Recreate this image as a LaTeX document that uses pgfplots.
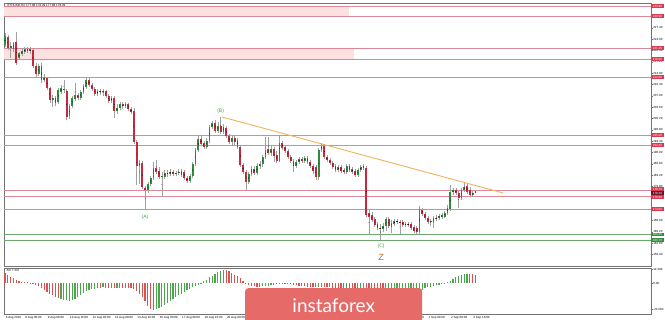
\documentclass[border=0pt]{standalone}
\usepackage{fontspec}
\setmainfont{Liberation Sans}
\newfontfamily\logofont{Lato}
\usepackage{pgfplots}
\usepackage{pgfplotstable}
\pgfplotsset{compat=1.18}
\definecolor{bull}{HTML}{2E8B3E}
\definecolor{bear}{HTML}{C8283C}
\definecolor{wick}{HTML}{A0A0A0}
\definecolor{lvl}{HTML}{DC8898}
\definecolor{band}{HTML}{FDE0E0}
\definecolor{lvlbox}{HTML}{D93A50}
\definecolor{curbox}{HTML}{6A1526}
\definecolor{gline}{HTML}{6FA86F}
\definecolor{gbox}{HTML}{2F8F3A}
\definecolor{trend}{HTML}{F2B25C}
\definecolor{wave}{HTML}{4E9A4E}
\definecolor{zcol}{HTML}{B8652F}
\definecolor{aogreen}{HTML}{4CA64C}
\definecolor{aored}{HTML}{D9534F}
\definecolor{logo}{HTML}{E56A68}
\newcommand\tf{\fontsize{3}{3.6}\selectfont}
\pgfplotsset{
  bullonly/.style={restrict expr to domain={\thisrow{d}}{0.5:1.5}},
  bearonly/.style={restrict expr to domain={\thisrow{d}}{-0.5:0.5}},
  nomarks/.style={only marks, mark=*, mark size=0.01pt, mark options={draw=none, fill=none}},
}
\tikzset{lbox/.style={anchor=west, fill=#1, text=white, font=\tf, inner sep=0.4pt, minimum width=12.5pt, minimum height=3.6pt}}

\pgfplotstableread{
i o h l c d
0 222.2 225.8 221.6 224.9 1
1 224.6 225.2 220.7 221.3 0
2 221.3 223.1 218.3 221.9 1
3 221.0 223.1 220.1 222.8 1
4 223.1 226.1 216.2 216.8 0
5 218.3 220.1 217.7 219.8 1
6 219.5 221.3 218.9 220.4 1
7 220.1 221.6 219.5 221.0 1
8 221.0 221.6 219.8 220.4 0
9 220.4 221.6 219.5 221.0 1
10 220.7 221.3 215.3 215.9 0
11 215.9 216.8 212.3 213.5 0
12 213.5 216.5 212.9 215.9 1
13 215.9 216.8 210.8 211.7 0
14 211.7 213.5 211.1 212.3 1
15 212.3 212.6 208.7 209.3 0
16 209.3 209.6 204.8 205.7 0
17 205.7 207.2 203.6 206.3 1
18 206.3 206.9 203.9 204.8 0
19 205.1 209.3 204.5 208.7 1
20 208.1 210.2 207.5 209.3 1
21 209.0 211.7 207.8 208.7 0
22 208.4 209.0 199.7 200.6 0
23 200.9 204.5 200.0 203.9 1
24 203.9 206.9 203.3 206.3 1
25 206.0 210.8 205.4 207.2 1
26 207.2 207.8 205.7 206.3 0
27 206.3 208.7 205.7 208.1 1
28 208.1 210.5 207.5 209.9 1
29 209.6 212.6 209.0 211.7 1
30 211.7 212.3 209.6 210.2 0
31 210.2 210.8 208.4 209.0 0
32 209.0 209.6 206.9 207.5 0
33 207.5 209.0 206.9 208.4 1
34 208.4 209.0 207.2 208.1 0
35 208.1 209.0 206.9 208.4 1
36 208.4 208.7 206.3 206.9 0
37 206.9 207.5 204.8 205.4 0
38 205.4 206.9 204.8 206.3 1
39 206.3 206.9 200.3 202.4 0
40 202.4 204.5 201.5 203.3 1
41 203.3 205.1 202.7 204.5 1
42 204.5 205.1 203.0 203.9 0
43 203.9 205.1 203.3 204.5 1
44 204.5 204.8 202.4 203.0 0
45 203.0 203.6 201.5 202.1 0
46 202.4 203.3 192.5 193.1 0
47 193.1 193.7 180.2 185.9 0
48 185.9 187.7 180.5 186.8 1
49 186.8 187.4 179.0 179.6 0
50 179.3 179.9 172.7 178.7 0
51 178.7 181.1 177.8 180.5 1
52 180.5 182.9 179.9 182.3 1
53 182.3 187.1 181.7 185.3 1
54 185.3 187.7 183.5 184.1 0
55 184.4 185.6 182.0 182.6 0
56 182.6 184.1 176.6 182.9 1
57 182.6 184.7 182.0 183.8 1
58 183.8 184.7 182.6 183.5 0
59 183.5 185.0 182.9 184.1 1
60 184.1 184.7 182.9 183.5 0
61 183.5 184.4 182.9 183.8 1
62 183.8 185.0 183.2 184.1 1
63 183.2 185.0 182.6 184.4 1
64 184.1 184.7 181.7 182.3 0
65 182.3 182.9 180.8 181.4 0
66 181.4 183.5 180.8 182.9 1
67 182.9 187.1 182.3 186.5 1
68 186.5 191.3 185.9 190.7 1
69 190.7 195.2 190.1 194.0 1
70 194.0 194.9 191.9 192.5 0
71 192.8 193.4 191.0 191.6 0
72 191.6 194.3 191.0 193.4 1
73 193.4 198.2 192.8 197.6 1
74 197.6 199.4 197.0 198.8 1
75 198.8 199.7 195.8 196.4 0
76 196.4 199.1 195.8 197.9 1
77 197.9 200.6 195.5 196.1 0
78 196.1 198.5 195.5 197.6 1
79 197.3 197.9 194.3 194.9 0
80 194.9 195.5 192.5 193.1 0
81 193.1 195.2 192.2 194.3 1
82 194.3 195.2 192.2 193.1 0
83 193.7 194.3 191.0 191.6 0
84 191.6 192.2 185.6 186.2 0
85 186.2 186.8 183.5 184.1 0
86 184.1 184.7 178.7 181.1 0
87 181.1 184.1 180.5 183.5 1
88 183.5 185.9 182.9 185.0 1
89 185.0 185.9 183.2 183.8 0
90 183.8 186.8 183.2 185.9 1
91 185.9 187.4 185.0 186.5 1
92 186.5 189.2 185.6 188.6 1
93 188.6 194.6 188.0 190.7 1
94 191.0 194.6 189.2 189.8 0
95 189.8 191.9 188.9 191.0 1
96 191.0 191.6 187.1 188.9 0
97 189.2 190.4 186.8 187.4 0
98 187.4 195.2 187.1 192.8 1
99 192.8 193.4 190.7 191.3 0
100 191.6 192.2 189.8 190.4 0
101 190.4 191.0 188.0 188.6 0
102 188.6 189.2 186.8 187.4 0
103 187.4 188.0 184.1 185.9 0
104 185.9 187.7 185.3 187.1 1
105 187.1 188.6 186.5 188.0 1
106 188.0 188.6 186.8 187.4 0
107 187.4 188.9 186.8 188.3 1
108 188.3 188.9 186.5 187.1 0
109 187.1 187.7 185.3 185.9 0
110 185.9 186.5 183.5 184.4 0
111 185.6 186.2 181.7 182.6 0
112 182.6 191.3 181.7 190.7 1
113 190.7 192.8 190.1 191.9 1
114 191.9 192.5 188.0 188.6 0
115 188.6 189.2 187.1 187.7 0
116 187.7 188.3 186.2 186.8 0
117 186.8 187.4 185.0 185.6 0
118 185.9 186.5 184.1 184.7 0
119 184.7 186.2 184.1 185.6 1
120 185.6 186.2 183.8 184.4 0
121 184.7 185.3 183.5 184.1 0
122 184.1 186.5 183.5 185.9 1
123 185.9 186.5 184.1 184.7 0
124 185.0 185.6 183.5 184.1 0
125 184.4 185.0 182.6 183.2 0
126 183.2 185.3 182.6 184.7 1
127 184.7 186.2 184.1 185.6 1
128 185.3 186.5 184.7 185.9 1
129 185.3 185.9 170.6 171.2 0
130 171.8 172.7 165.2 170.6 0
131 171.2 172.1 169.1 169.7 0
132 170.0 170.6 167.6 168.2 0
133 168.5 169.1 166.7 167.3 0
134 167.3 168.5 163.7 167.0 0
135 167.0 168.8 166.1 167.9 1
136 167.9 170.6 166.4 170.0 1
137 170.0 170.6 167.3 167.9 0
138 167.9 169.7 165.8 168.8 1
139 168.5 170.0 167.9 169.4 1
140 169.4 170.0 168.5 169.1 0
141 169.1 169.7 165.5 168.8 0
142 169.1 169.7 167.6 168.2 0
143 168.2 169.1 167.6 168.5 1
144 168.5 169.1 167.6 168.2 0
145 168.5 169.1 166.7 167.3 0
146 167.6 168.2 165.8 166.4 0
147 167.3 167.9 165.2 166.1 0
148 166.1 173.9 165.5 173.0 1
149 172.7 173.3 170.9 171.5 0
150 171.5 172.1 169.7 170.3 0
151 170.3 170.9 168.5 169.1 0
152 169.1 170.0 167.9 169.4 1
153 169.1 170.9 167.3 170.3 1
154 170.3 171.2 169.4 170.0 0
155 170.3 171.5 169.7 170.9 1
156 170.6 171.8 170.0 171.2 1
157 170.6 172.4 170.3 171.8 1
158 171.8 174.2 171.2 173.3 1
159 173.0 180.2 172.4 178.1 1
160 178.1 179.3 177.2 178.7 1
161 178.7 179.3 177.2 177.8 0
162 177.8 178.4 173.3 176.3 0
163 176.3 179.3 175.7 178.7 1
164 178.7 181.1 178.1 179.6 1
165 179.9 180.8 177.5 178.1 0
166 178.7 179.6 176.6 177.2 0
167 177.2 178.4 176.6 177.8 1
168 177.88 178.29 177.88 178.29 1
}\candles

\pgfplotstableread{
i v d
0 8.6 0
1 7.2 0
2 5.6 0
3 4.0 0
4 2.6 0
5 1.8 0
6 1.2 0
7 0.8 0
8 0.5 0
9 0.2 0
10 -0.5 0
11 -1.5 0
12 -2.8 0
13 -4.5 0
14 -6.0 0
15 -7.7 0
16 -9.5 0
17 -11.0 0
18 -12.5 0
19 -13.5 0
20 -14.3 1
21 -15.0 1
22 -15.5 1
23 -15.8 1
24 -15.5 1
25 -14.5 1
26 -12.5 1
27 -10.5 1
28 -9.0 1
29 -7.5 1
30 -6.5 1
31 -5.5 1
32 -5.0 1
33 -4.6 1
34 -4.2 0
35 -4.0 1
36 -4.3 0
37 -4.5 0
38 -4.2 1
39 -4.6 0
40 -4.4 1
41 -4.2 1
42 -4.3 0
43 -4.2 1
44 -4.5 0
45 -4.8 0
46 -5.2 0
47 -7.0 0
48 -9.5 0
49 -12.5 0
50 -16.0 0
51 -20.0 0
52 -23.0 0
53 -23.9 0
54 -23.0 1
55 -22.0 1
56 -21.0 1
57 -19.5 1
58 -17.5 1
59 -15.8 1
60 -14.0 1
61 -12.5 1
62 -11.0 1
63 -9.5 1
64 -8.0 1
65 -6.5 1
66 -5.2 1
67 -4.0 1
68 -3.0 1
69 -1.5 1
70 -0.2 1
71 1.5 1
72 3.0 1
73 5.0 1
74 6.5 1
75 8.0 1
76 9.5 1
77 10.5 1
78 11.6 1
79 11.2 0
80 10.2 0
81 9.0 0
82 7.5 0
83 6.0 0
84 4.0 0
85 2.0 0
86 -0.5 0
87 -1.5 0
88 -2.5 0
89 -3.0 0
90 -3.4 0
91 -3.3 1
92 -3.1 1
93 -2.9 1
94 -2.6 1
95 -2.2 1
96 -1.8 1
97 -1.2 1
98 -0.6 1
99 -0.3 1
100 -0.4 0
101 -0.7 0
102 -1.1 0
103 -1.6 0
104 -2.1 0
105 -2.5 0
106 -2.8 0
107 -3.0 0
108 -3.2 0
109 -3.4 0
110 -3.7 0
111 -4.0 0
112 -3.8 1
113 -3.5 1
114 -3.6 0
115 -3.8 0
116 -4.0 0
117 -4.2 0
118 -4.4 0
119 -4.5 0
120 -4.6 0
121 -4.7 0
122 -4.6 1
123 -4.7 0
124 -4.9 0
125 -5.1 0
126 -5.0 1
127 -4.9 1
128 -4.8 1
129 -6.5 0
130 -9.0 0
131 -11.5 0
132 -13.5 0
133 -15.0 0
134 -16.0 0
135 -16.5 0
136 -16.0 1
137 -15.5 1
138 -15.0 1
139 -14.5 1
140 -14.0 1
141 -13.5 1
142 -13.0 1
143 -12.5 1
144 -12.0 1
145 -11.5 1
146 -11.0 1
147 -10.0 1
148 -8.5 1
149 -6.5 1
150 -4.5 1
151 -3.8 1
152 -3.2 1
153 -2.6 1
154 -2.0 1
155 -1.5 1
156 -1.0 1
157 -0.5 1
158 0.8 1
159 2.2 1
160 3.6 1
161 5.0 1
162 6.3 1
163 7.2 1
164 7.8 1
165 8.2 1
166 8.0 0
167 7.8 0
168 7.5 0
}\ao

\begin{document}
\begin{tikzpicture}
\useasboundingbox (0pt,0pt) rectangle (665pt,320pt);
\begin{axis}[
  at={(4pt,54pt)}, anchor=south west, scale only axis,
  width=647pt, height=263pt,
  xmin=-0.36, xmax=230.7, ymin=155.9, ymax=234.8,
  clip=false,
  axis line style={draw=black!55, line width=0.4pt},
  xtick=\empty,
  ytick pos=right,
  ytick={159.4,162.8,166.2,169.6,173.0,176.4,179.8,183.2,186.6,190.0,193.4,196.8,200.2,203.6,207.0,210.4,213.8,217.2,220.6,224.0,227.4,230.8},
  tick align=outside, major tick length=1.5pt,
  tick style={draw=black!55, line width=0.3pt},
  yticklabel style={font=\tf, inner sep=0.6pt},
  /pgf/number format/.cd, fixed, precision=2, fixed zerofill, assume math mode=true,
]
% zones
\addplot[draw=none, fill=band] coordinates {(-0.36,230.9) (-0.36,233.9) (123,233.9) (123,230.9)} -- cycle;
\addplot[draw=none, fill=band] coordinates {(-0.36,218.0) (-0.36,221.3) (124.5,221.3) (124.5,218.0)} -- cycle;
% levels
\pgfplotsinvokeforeach{233.9,230.9,221.3,218.0,212.6,195.2,192.2,178.7,176.9,173.0}{
  \addplot[lvl, line width=0.55pt] coordinates {(-0.36,#1) (230.7,#1)};
}
\pgfplotsinvokeforeach{165.35,163.7}{
  \addplot[gline, line width=0.55pt] coordinates {(-0.36,#1) (230.7,#1)};
}
% candles: wicks
\addplot[nomarks, error bars/.cd, y dir=both, y explicit, error mark=none,
  error bar style={draw=wick, line width=0.45pt}]
  table[x=i, y expr={(\thisrow{h}+\thisrow{l})/2}, y error expr={(\thisrow{h}-\thisrow{l})/2}] {\candles};
% candles: bodies
\addplot[nomarks, bullonly, error bars/.cd, y dir=both, y explicit, error mark=none,
  error bar style={draw=bull, line width=1.8pt}]
  table[x=i, y expr={(\thisrow{o}+\thisrow{c})/2}, y error expr={max(abs(\thisrow{c}-\thisrow{o})/2,0.12)}] {\candles};
\addplot[nomarks, bearonly, error bars/.cd, y dir=both, y explicit, error mark=none,
  error bar style={draw=bear, line width=1.8pt}]
  table[x=i, y expr={(\thisrow{o}+\thisrow{c})/2}, y error expr={max(abs(\thisrow{c}-\thisrow{o})/2,0.12)}] {\candles};
% trend line
\addplot[trend, line width=0.9pt] coordinates {(77.5,200.6) (177.9,177.8)};
% labels
\node[font=\fontsize{5}{5}\selectfont, text=wave] at (axis cs:50,170.6) {(A)};
\node[font=\fontsize{5}{5}\selectfont, text=wave] at (axis cs:77,202.2) {(B)};
\node[font=\fontsize{5}{5}\selectfont, text=wave] at (axis cs:134.3,161.9) {(C)};
\node[font=\fontsize{9}{9}\selectfont, text=zcol] at (axis cs:134.3,158.4) {Z};
\node[anchor=north west, font=\tf, inner sep=0.5pt] at ([xshift=3pt,yshift=-0.5pt]rel axis cs:0,1) {ETHUSD,H4\enspace 177.88 178.29 177.88 178.29};
% right-hand level boxes
\node[lbox=lvlbox] at (axis cs:230.7,233.9) {233.90};
\node[lbox=lvlbox] at (axis cs:230.7,230.9) {230.90};
\node[lbox=lvlbox] at (axis cs:230.7,221.3) {221.30};
\node[lbox=lvlbox] at (axis cs:230.7,218.0) {218.00};
\node[lbox=lvlbox] at (axis cs:230.7,212.6) {212.60};
\node[lbox=lvlbox] at (axis cs:230.7,195.2) {195.20};
\node[lbox=lvlbox] at (axis cs:230.7,192.2) {192.20};
\node[lbox=lvlbox] at (axis cs:230.7,179.0) {178.70};
\node[lbox=lvlbox] at (axis cs:230.7,176.6) {176.90};
\node[lbox=lvlbox] at (axis cs:230.7,173.0) {173.00};
\node[lbox=curbox] at (axis cs:230.7,177.8) {178.29};
\node[lbox=gbox] at (axis cs:230.7,165.35) {165.35};
\node[lbox=gbox] at (axis cs:230.7,163.7) {163.70};
\end{axis}

\begin{axis}[
  at={(4pt,6pt)}, anchor=south west, scale only axis,
  width=647pt, height=46pt,
  xmin=-0.36, xmax=230.7, ymin=-27.5, ymax=13.3,
  axis line style={draw=black!55, line width=0.4pt},
  ytick pos=right, xtick pos=bottom,
  ytick={-23.283,0,12.399}, yticklabels={-23.283,0.00,12.399},
  xtick={0,7,15,23,31,39,47,55,63,71,79,87,95,103,111,119,127,135,143,151,159,167},
  xticklabels={6 Aug 2019,8 Aug 00:00,9 Aug 08:00,10 Aug 16:00,12 Aug 00:00,13 Aug 08:00,14 Aug 16:00,16 Aug 00:00,17 Aug 08:00,18 Aug 16:00,20 Aug 00:00,21 Aug 08:00,22 Aug 16:00,24 Aug 00:00,25 Aug 08:00,26 Aug 16:00,28 Aug 00:00,29 Aug 08:00,30 Aug 16:00,1 Sep 00:00,2 Sep 08:00,3 Sep 16:00},
  xticklabel style={anchor=north west, font=\tf, inner sep=0.6pt},
  yticklabel style={font=\tf, inner sep=0.6pt},
  tick align=outside, major tick length=1.5pt,
  tick style={draw=black!55, line width=0.3pt},
]
\addplot[ycomb, aogreen, line width=1.1pt, bullonly] table[x=i, y=v] {\ao};
\addplot[ycomb, aored, line width=1.1pt, bearonly] table[x=i, y=v] {\ao};
\node[anchor=north west, font=\tf, inner sep=0.5pt] at ([xshift=2pt,yshift=-1pt]rel axis cs:0,1) {AO 7.337};
\end{axis}

\node[fill=logo, rounded corners=3pt, minimum width=177pt, minimum height=38pt, anchor=north west, inner sep=0pt, text=white, font=\logofont\fontsize{19}{19}\selectfont] at (245pt,32pt) {\raisebox{3pt}{instaforex}};
\end{tikzpicture}
\end{document}
